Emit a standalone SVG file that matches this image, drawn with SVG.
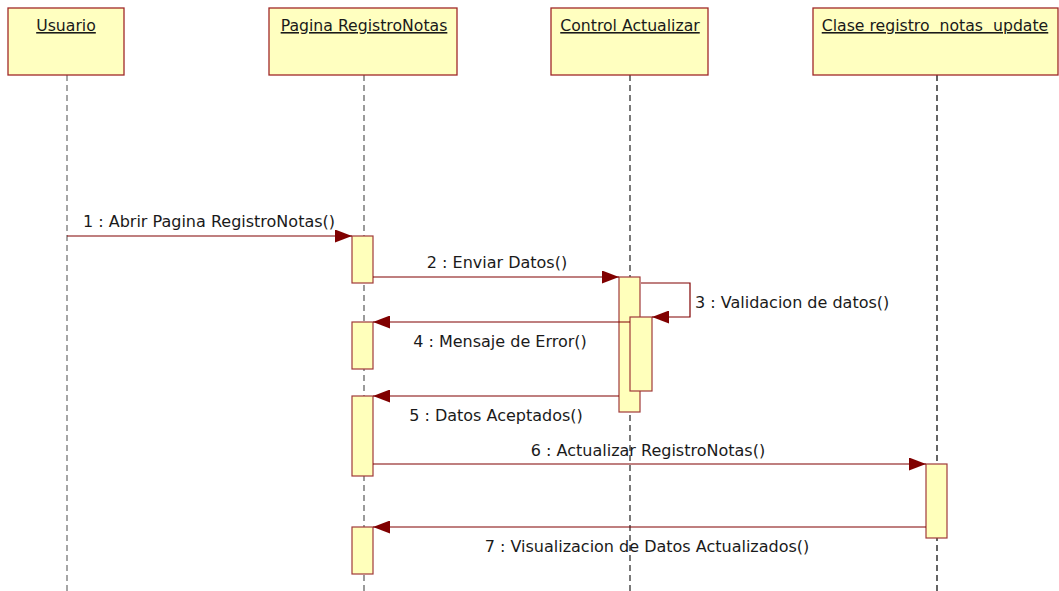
<svg xmlns="http://www.w3.org/2000/svg" width="1059" height="591" viewBox="0 0 1059 591">
<style>
.box{fill:#ffffc0;stroke:#a02828;stroke-width:1.3}
.act{fill:#ffffbb;stroke:#a03a3a;stroke-width:1.2}
.life{stroke-width:1.3;stroke-dasharray:6,4;fill:none}
.hdr{font-family:"DejaVu Sans",sans-serif;font-size:15.7px;fill:#1a1a1a;text-anchor:middle;text-decoration:underline;white-space:pre}
.lbl{font-family:"DejaVu Sans",sans-serif;font-size:16px;fill:#1a1a1a}
.msg{stroke:#800000;stroke-width:1.2;fill:none;marker-end:url(#arr)}
</style>
<defs>
<marker id="arr" viewBox="0 0 17 13" refX="17" refY="6.5" markerWidth="17" markerHeight="13" markerUnits="userSpaceOnUse" orient="auto">
<path d="M0,0 L17,6.5 L0,13 z" fill="#800000"/>
</marker>
</defs>
<g id="lifelines">
<line class="life" x1="67" y1="75" x2="67" y2="591" stroke="#777"/>
<line class="life" x1="364" y1="75" x2="364" y2="591" stroke="#666"/>
<line class="life" x1="630" y1="75" x2="630" y2="591" stroke="#333"/>
<line class="life" x1="937" y1="75" x2="937" y2="591" stroke="#111"/>
</g>
<g id="usuario">
<rect class="box" x="8" y="8" width="116" height="67"/>
<text class="hdr" x="66" y="31">Usuario</text>
</g>
<g id="pagina">
<rect class="box" x="269" y="8" width="188" height="67"/>
<text class="hdr" x="364" y="31">Pagina RegistroNotas</text>
<rect class="act" x="352" y="236" width="21" height="47"/>
<rect class="act" x="352" y="322" width="21" height="47"/>
<rect class="act" x="352" y="396" width="21" height="80"/>
<rect class="act" x="352" y="527" width="21" height="47"/>
</g>
<g id="control">
<rect class="box" x="551" y="8" width="157" height="67"/>
<text class="hdr" x="630" y="31">Control Actualizar</text>
<rect class="act" x="619" y="277" width="21" height="135"/>
<rect class="act" x="630" y="317" width="22" height="74"/>
</g>
<g id="clase">
<rect class="box" x="813" y="8" width="245" height="67"/>
<text class="hdr" x="935" y="31" xml:space="preserve">Clase registro  notas  update</text>
<rect class="act" x="926" y="464" width="21" height="74"/>
</g>
<g id="connectors">
<line class="msg" x1="67" y1="236" x2="352" y2="236"/>
<text class="lbl" x="83" y="227">1 : Abrir Pagina RegistroNotas()</text>
<line class="msg" x1="373" y1="277" x2="619" y2="277"/>
<text class="lbl" x="497" y="268" text-anchor="middle">2 : Enviar Datos()</text>
<polyline class="msg" points="641,283 690,283 690,317 652,317"/>
<text class="lbl" x="695" y="308">3 : Validacion de datos()</text>
<line class="msg" x1="630" y1="322" x2="373" y2="322"/>
<text class="lbl" x="500" y="347" text-anchor="middle">4 : Mensaje de Error()</text>
<line class="msg" x1="619" y1="396" x2="373" y2="396"/>
<text class="lbl" x="496" y="421" text-anchor="middle">5 : Datos Aceptados()</text>
<line class="msg" x1="373" y1="464" x2="926" y2="464"/>
<text class="lbl" x="648" y="456" text-anchor="middle">6 : Actualizar RegistroNotas()</text>
<line class="msg" x1="926" y1="527" x2="373" y2="527"/>
<text class="lbl" x="647" y="552" text-anchor="middle">7 : Visualizacion de Datos Actualizados()</text>
</g>
</svg>
